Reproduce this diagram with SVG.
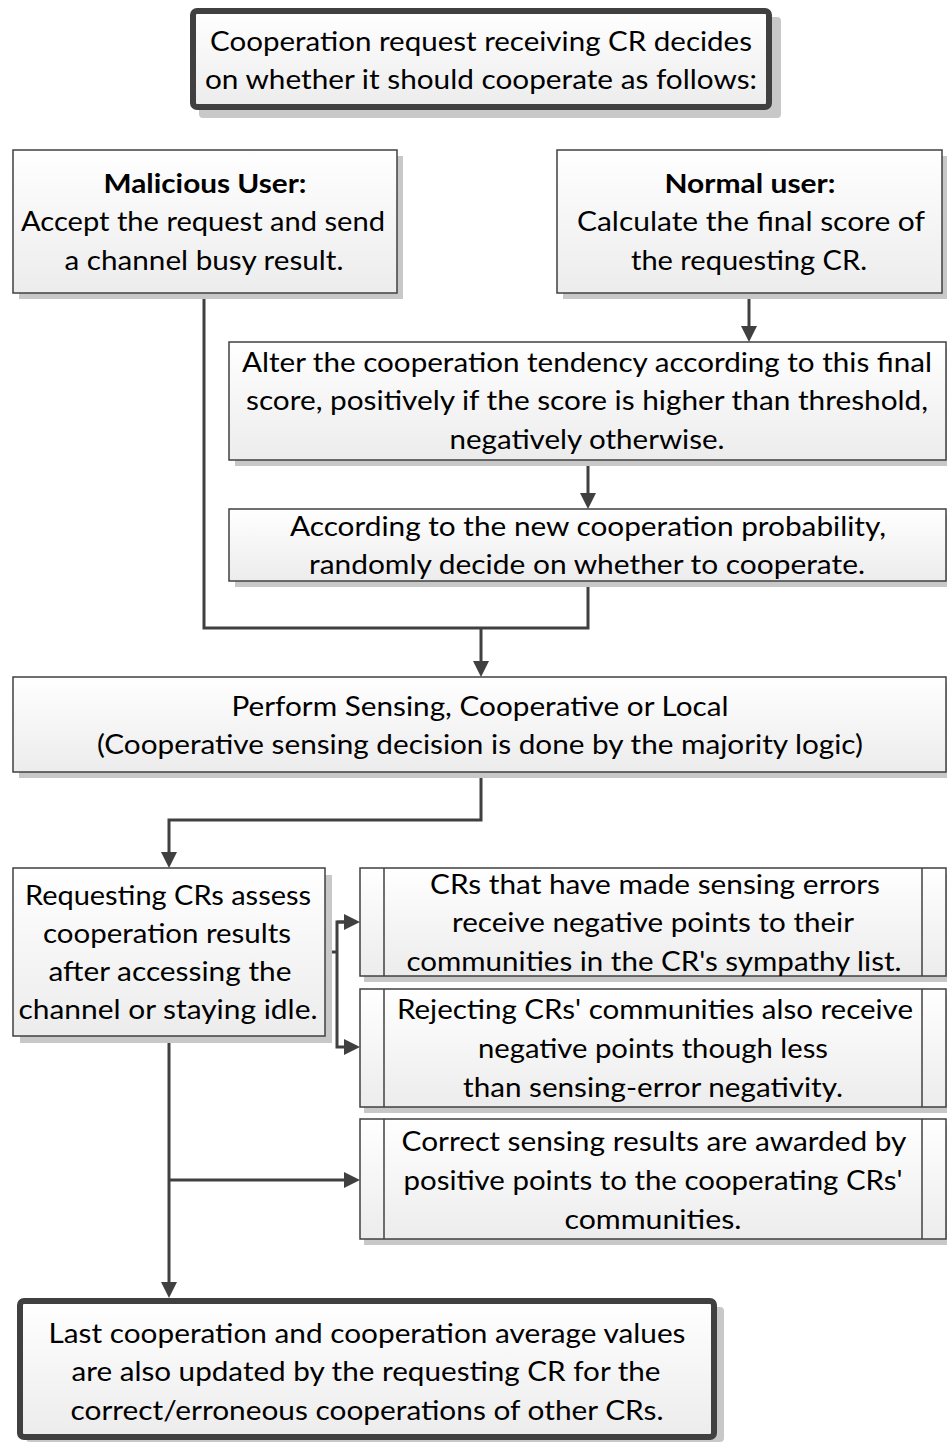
<svg xmlns="http://www.w3.org/2000/svg" width="947" height="1442" viewBox="0 0 947 1442">
<defs>
<linearGradient id="g" x1="0" y1="0" x2="0" y2="1">
<stop offset="0" stop-color="#ffffff"/>
<stop offset="1" stop-color="#ececec"/>
</linearGradient>
<marker id="ah" markerUnits="userSpaceOnUse" markerWidth="16" markerHeight="16" refX="8" refY="8" orient="auto" viewBox="0 0 16 16">
<path d="M0,0 L16,8 L0,16 z" fill="#404040"/>
</marker>
</defs>
<style>
.box{fill:url(#g);stroke:#404040;stroke-width:1.5}
.thick{fill:url(#g);stroke:#404040;stroke-width:6}
.sh{fill:#c8c8c8}
.t{font-family:Lato,"Open Sans","Liberation Sans",sans-serif;font-size:27px;fill:#000;text-anchor:middle}
.b{font-weight:bold}
.c{stroke:#404040;stroke-width:3;fill:none}
.ca{stroke:#404040;stroke-width:3;fill:none;marker-end:url(#ah)}
.in{stroke:#404040;stroke-width:1.5}
</style>

<g id="connectors">
<line class="ca" x1="749" y1="293" x2="749" y2="334"/>
<line class="ca" x1="588" y1="460" x2="588" y2="501"/>
<polyline class="c" points="204,293 204,628 588,628 588,581"/>
<line class="ca" x1="481" y1="628" x2="481" y2="669"/>
<polyline class="ca" points="481,772 481,820 169,820 169,860"/>
<line class="c" x1="325" y1="952" x2="337" y2="952"/>
<polyline class="ca" points="352,922 337,922 337,1047 352,1047"/>
<line class="ca" x1="337" y1="922" x2="352" y2="922"/>
<line class="ca" x1="169" y1="1036" x2="169" y2="1290"/>
<line class="ca" x1="169" y1="1180" x2="352" y2="1180"/>
</g>

<g id="start">
<rect class="sh" x="199" y="17" width="582" height="101" rx="4"/>
<rect class="thick" x="193" y="11" width="576" height="96" rx="4"/>
<text class="t" x="481" y="51" textLength="542" lengthAdjust="spacingAndGlyphs">Cooperation request receiving CR decides</text>
<text class="t" x="481" y="89" textLength="552" lengthAdjust="spacingAndGlyphs">on whether it should cooperate as follows:</text>
</g>

<g id="malicious">
<rect class="sh" x="19" y="156" width="384" height="143"/>
<rect class="box" x="13" y="150" width="384" height="143"/>
<text class="t b" x="205" y="193" textLength="203" lengthAdjust="spacingAndGlyphs">Malicious User:</text>
<text class="t" x="203" y="231" textLength="364" lengthAdjust="spacingAndGlyphs">Accept the request and send</text>
<text class="t" x="204" y="270" textLength="279" lengthAdjust="spacingAndGlyphs">a channel busy result.</text>
</g>

<g id="normal">
<rect class="sh" x="563" y="156" width="384" height="143"/>
<rect class="box" x="557" y="150" width="385" height="143"/>
<text class="t b" x="750" y="193" textLength="171" lengthAdjust="spacingAndGlyphs">Normal user:</text>
<text class="t" x="751" y="231" textLength="348" lengthAdjust="spacingAndGlyphs">Calculate the final score of</text>
<text class="t" x="749" y="270" textLength="236" lengthAdjust="spacingAndGlyphs">the requesting CR.</text>
</g>

<g id="alter">
<rect class="sh" x="235" y="348" width="712" height="118"/>
<rect class="box" x="229" y="342" width="717" height="118"/>
<text class="t" x="587" y="372" textLength="690" lengthAdjust="spacingAndGlyphs">Alter the cooperation tendency according to this final</text>
<text class="t" x="587" y="410" textLength="682" lengthAdjust="spacingAndGlyphs">score, positively if the score is higher than threshold,</text>
<text class="t" x="587" y="449" textLength="275" lengthAdjust="spacingAndGlyphs">negatively otherwise.</text>
</g>

<g id="according">
<rect class="sh" x="235" y="515" width="712" height="72"/>
<rect class="box" x="229" y="509" width="717" height="72"/>
<text class="t" x="588" y="536" textLength="596" lengthAdjust="spacingAndGlyphs">According to the new cooperation probability,</text>
<text class="t" x="587" y="574" textLength="556" lengthAdjust="spacingAndGlyphs">randomly decide on whether to cooperate.</text>
</g>

<g id="perform">
<rect class="sh" x="19" y="683" width="928" height="95"/>
<rect class="box" x="13" y="677" width="933" height="95"/>
<text class="t" x="480" y="716" textLength="497" lengthAdjust="spacingAndGlyphs">Perform Sensing, Cooperative or Local</text>
<text class="t" x="480" y="754" textLength="766" lengthAdjust="spacingAndGlyphs">(Cooperative sensing decision is done by the majority logic)</text>
</g>

<g id="requesting">
<rect class="sh" x="20" y="875" width="312" height="168"/>
<rect class="box" x="13" y="868" width="312" height="168"/>
<text class="t" x="168" y="905" textLength="286" lengthAdjust="spacingAndGlyphs">Requesting CRs assess</text>
<text class="t" x="167" y="943" textLength="248" lengthAdjust="spacingAndGlyphs">cooperation results</text>
<text class="t" x="170" y="981" textLength="243" lengthAdjust="spacingAndGlyphs">after accessing the</text>
<text class="t" x="168" y="1019" textLength="299" lengthAdjust="spacingAndGlyphs">channel or staying idle.</text>
</g>

<g id="negative-errors">
<rect class="sh" x="364" y="874" width="583" height="108"/>
<rect class="box" x="360" y="868" width="586" height="108"/>
<line class="in" x1="384" y1="868" x2="384" y2="976"/>
<line class="in" x1="922" y1="868" x2="922" y2="976"/>
<text class="t" x="655" y="894" textLength="450" lengthAdjust="spacingAndGlyphs">CRs that have made sensing errors</text>
<text class="t" x="653" y="932" textLength="402" lengthAdjust="spacingAndGlyphs">receive negative points to their</text>
<text class="t" x="654" y="971" textLength="495" lengthAdjust="spacingAndGlyphs">communities in the CR's sympathy list.</text>
</g>

<g id="negative-rejecting">
<rect class="sh" x="364" y="995" width="583" height="118"/>
<rect class="box" x="360" y="989" width="586" height="118"/>
<line class="in" x1="384" y1="989" x2="384" y2="1107"/>
<line class="in" x1="922" y1="989" x2="922" y2="1107"/>
<text class="t" x="655" y="1019" textLength="516" lengthAdjust="spacingAndGlyphs">Rejecting CRs' communities also receive</text>
<text class="t" x="653" y="1058" textLength="350" lengthAdjust="spacingAndGlyphs">negative points though less</text>
<text class="t" x="653" y="1097" textLength="380" lengthAdjust="spacingAndGlyphs">than sensing-error negativity.</text>
</g>

<g id="positive">
<rect class="sh" x="364" y="1125" width="583" height="120"/>
<rect class="box" x="360" y="1119" width="586" height="120"/>
<line class="in" x1="384" y1="1119" x2="384" y2="1239"/>
<line class="in" x1="922" y1="1119" x2="922" y2="1239"/>
<text class="t" x="654" y="1151" textLength="505" lengthAdjust="spacingAndGlyphs">Correct sensing results are awarded by</text>
<text class="t" x="653" y="1190" textLength="499" lengthAdjust="spacingAndGlyphs">positive points to the cooperating CRs'</text>
<text class="t" x="653" y="1229" textLength="177" lengthAdjust="spacingAndGlyphs">communities.</text>
</g>

<g id="end">
<rect class="sh" x="26" y="1307" width="698" height="135" rx="4"/>
<rect class="thick" x="20" y="1301" width="694" height="136" rx="4"/>
<text class="t" x="367" y="1343" textLength="637" lengthAdjust="spacingAndGlyphs">Last cooperation and cooperation average values</text>
<text class="t" x="366" y="1381" textLength="589" lengthAdjust="spacingAndGlyphs">are also updated by the requesting CR for the</text>
<text class="t" x="367" y="1420" textLength="593" lengthAdjust="spacingAndGlyphs">correct/erroneous cooperations of other CRs.</text>
</g>
</svg>
